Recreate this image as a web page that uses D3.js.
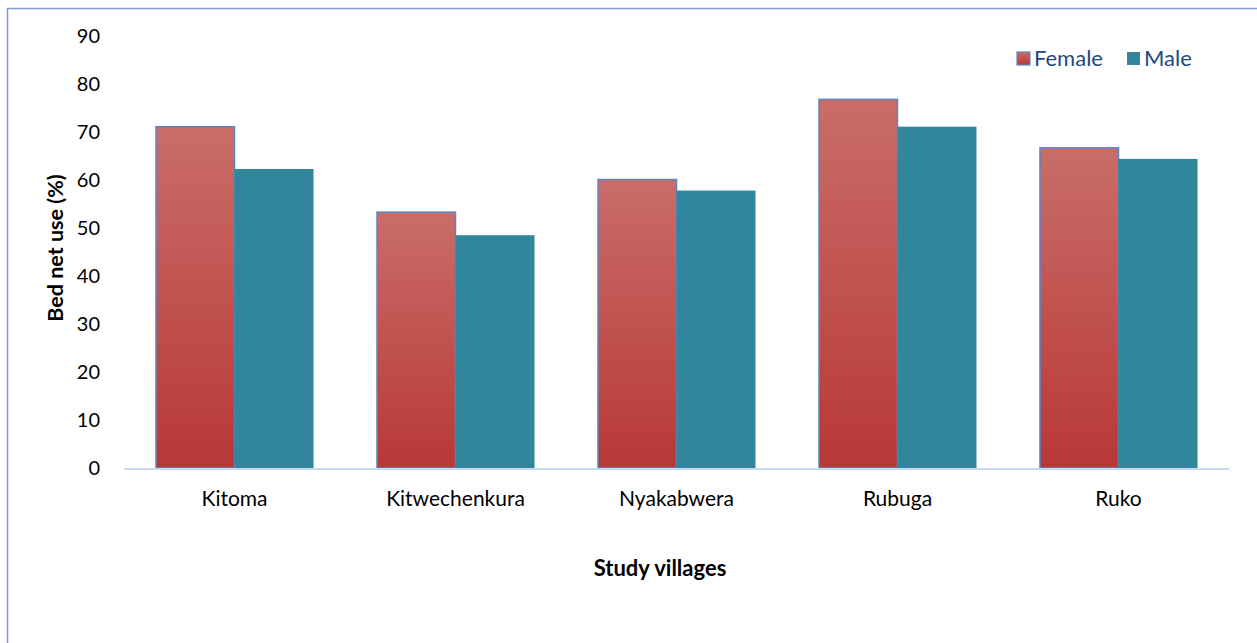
<!DOCTYPE html>
<html><head><meta charset="utf-8">
<script src="https://cdn.jsdelivr.net/npm/d3@7/dist/d3.min.js"></script>
<style>
html,body{margin:0;padding:0;background:#fff;}
svg{display:block;font-family:Lato,"Open Sans",sans-serif;}
</style></head>
<body>
<script>
const villages = ["Kitoma","Kitwechenkura","Nyakabwera","Rubuga","Ruko"];
const seriesNames = ["Female","Male"];
const female = [71.1, 53.3, 60.1, 76.8, 66.7];
const male = [62.3, 48.5, 57.8, 71.1, 64.4];
const yTicks = [0,10,20,30,40,50,60,70,80,90];

const W = 1257, H = 643;
const FONT = "Lato,'Open Sans',sans-serif";
const svg = d3.select("body").append("svg").attr("width", W).attr("height", H);

const defs = svg.append("defs");
const g1 = defs.append("linearGradient").attr("id","fgrad").attr("x1",0).attr("y1",0).attr("x2",0).attr("y2",1);
g1.append("stop").attr("offset","0%").attr("stop-color","#C96D69");
g1.append("stop").attr("offset","100%").attr("stop-color","#B83836");

// outer frame
svg.append("rect").attr("x",7.5).attr("y",8.5).attr("width",W+20).attr("height",H+20)
  .attr("fill","none").attr("stroke","#7F9DCB").attr("stroke-width",1.5);

const x0 = d3.scaleBand().domain(villages).range([124,1229]).paddingInner(0.285).paddingOuter(0.1425);
const x1 = d3.scaleBand().domain(seriesNames).range([0, x0.bandwidth()]);
const y = d3.scaleLinear().domain([0,90]).range([468,36]);

const data = villages.map((v,i)=>({v, vals:[{s:"Female",val:female[i]},{s:"Male",val:male[i]}]}));

const groups = svg.append("g").selectAll("g").data(data).join("g")
  .attr("transform", d=>`translate(${x0(d.v)},0)`);
groups.selectAll("rect").data(d=>d.vals).join("rect")
  .attr("x", d=>x1(d.s) + (d.s==="Female"?0.5:0))
  .attr("y", d=>y(d.val))
  .attr("width", d=>x1.bandwidth() - (d.s==="Female"?0.5:0))
  .attr("height", d=>y(0)-y(d.val))
  .attr("fill", d=>d.s==="Female"?"url(#fgrad)":"#31869B")
  .attr("stroke", d=>d.s==="Female"?"#5F84C2":"none")
  .attr("stroke-width", 1.5);

// x axis line
svg.append("line").attr("x1",124).attr("x2",1229).attr("y1",469).attr("y2",469)
  .attr("stroke","#C9DAF0").attr("stroke-width",2);

// y tick labels
const yAxis = d3.axisLeft(y).tickValues(yTicks).tickSize(0).tickPadding(0);
const ya = svg.append("g").attr("transform","translate(100,0)").call(yAxis);
ya.select(".domain").remove();
ya.selectAll("text").attr("font-size",20).attr("fill","#000").attr("font-family",FONT);

// x category labels
const xAxis = d3.axisBottom(x0).tickSize(0).tickPadding(0);
const xa = svg.append("g").attr("transform","translate(0,491)").call(xAxis);
xa.select(".domain").remove();
xa.selectAll("text").attr("font-size",21).attr("fill","#000").attr("font-family",FONT);

// axis titles
svg.append("text").attr("x",660).attr("y",576).attr("text-anchor","middle")
  .attr("font-size",22).attr("font-weight","bold").attr("fill","#000").text("Study villages");
svg.append("text").attr("transform","translate(63,248) rotate(-90)").attr("text-anchor","middle")
  .attr("font-size",21.5).attr("font-weight","bold").attr("fill","#000").text("Bed net use (%)");

// legend
const leg = svg.append("g");
const legItems = [{s:"Female",x:1017},{s:"Male",x:1127}];
legItems.forEach(it=>{
  leg.append("rect").attr("x",it.x).attr("y",52).attr("width",13).attr("height",13)
    .attr("fill", it.s==="Female"?"url(#fgrad)":"#31869B")
    .attr("stroke", it.s==="Female"?"#5F84C2":"none").attr("stroke-width",1.2);
  leg.append("text").attr("x",it.x+17).attr("y",66).attr("font-size",22).attr("fill","#1F497D").text(it.s);
});
</script>
</body></html>
